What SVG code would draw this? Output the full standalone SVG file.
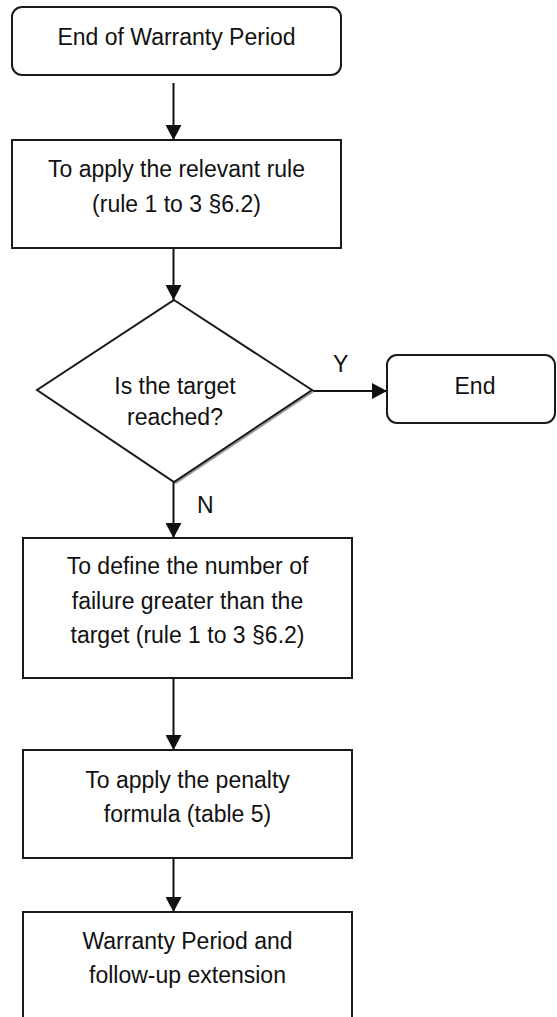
<svg xmlns="http://www.w3.org/2000/svg" width="557" height="1017" viewBox="0 0 557 1017">
<style>
.box{fill:#fff;stroke:#1a1a1a;stroke-width:2}
.t{font-family:"Liberation Sans",Arial,sans-serif;font-size:23px;fill:#111;text-anchor:middle}
.lbl{font-family:"Liberation Sans",Arial,sans-serif;font-size:23px;fill:#111}
.c{stroke:#111;stroke-width:2;fill:none;marker-end:url(#ah)}
</style>
<defs>
<marker id="ah" markerUnits="userSpaceOnUse" markerWidth="16" markerHeight="16" refX="15" refY="8" orient="auto">
<path d="M0,0 L15,8 L0,16 z" fill="#111"/>
</marker>
</defs>
<rect width="557" height="1017" fill="#fff"/>
<g id="connectors">
<line class="c" x1="173.5" y1="83" x2="173.5" y2="140"/>
<line class="c" x1="173.5" y1="248" x2="173.5" y2="300"/>
<line class="c" x1="312" y1="391" x2="387" y2="391"/>
<line class="c" x1="173.5" y1="482" x2="173.5" y2="538"/>
<line class="c" x1="173.5" y1="678" x2="173.5" y2="750"/>
<line class="c" x1="173.5" y1="858" x2="173.5" y2="912"/>
<text class="lbl" x="333" y="372">Y</text>
<text class="lbl" x="197" y="513">N</text>
</g>
<g id="start">
<rect class="box" x="12" y="7" width="329" height="68" rx="10"/>
<text class="t" x="176.5" y="45">End of Warranty Period</text>
</g>
<g id="apply-rule">
<rect class="box" x="12" y="140" width="329" height="108"/>
<text class="t" x="176.5" y="177">To apply the relevant rule</text>
<text class="t" x="176.5" y="212">(rule 1 to 3 §6.2)</text>
</g>
<g id="decision">
<polygon points="176,302 314,392 176,484 39,392" fill="#9a9a9a"/>
<polygon points="174,300 312,390 174,482 37,390" fill="#fff" stroke="#1a1a1a" stroke-width="2"/>
<text class="t" x="175" y="394">Is the target</text>
<text class="t" x="175" y="425">reached?</text>
</g>
<g id="end">
<rect class="box" x="387" y="355" width="168" height="68" rx="10"/>
<text class="t" x="475" y="394">End</text>
</g>
<g id="define-number">
<rect class="box" x="23" y="538" width="329" height="140"/>
<text class="t" x="187.5" y="574">To define the number of</text>
<text class="t" x="187.5" y="609">failure greater than the</text>
<text class="t" x="187.5" y="643">target (rule 1 to 3 §6.2)</text>
</g>
<g id="penalty">
<rect class="box" x="23" y="750" width="329" height="108"/>
<text class="t" x="187.5" y="788">To apply the penalty</text>
<text class="t" x="187.5" y="822">formula (table 5)</text>
</g>
<g id="extension">
<rect class="box" x="23" y="912" width="329" height="130"/>
<text class="t" x="187.5" y="949">Warranty Period and</text>
<text class="t" x="187.5" y="983">follow-up extension</text>
</g>
</svg>
